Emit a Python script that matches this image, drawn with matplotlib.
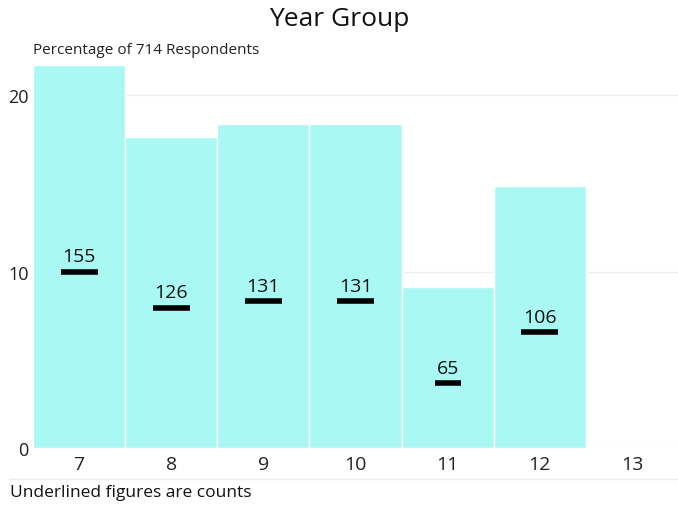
import matplotlib
matplotlib.use("Agg")
import matplotlib.pyplot as plt
from matplotlib.lines import Line2D
import matplotlib.transforms as mtransforms

plt.rcParams['font.family'] = ['Open Sans', 'DejaVu Sans']

categories = ["7", "8", "9", "10", "11", "12", "13"]
counts = [155, 126, 131, 131, 65, 106, 0]
total = 714
percentages = [c / total * 100 for c in counts]

fig = plt.figure(figsize=(6.78, 5.10), dpi=100)
ax = fig.add_axes([33/678, 61/510, 1 - 33/678, (449-66)/510])

x = list(range(len(categories)))
ax.set_axisbelow(True)
ax.yaxis.grid(True, color="#f0f0f0", linewidth=1)
ax.bar(x, percentages, width=1.0, color="#aaf8f4", edgecolor="white", linewidth=1, zorder=2)

ax.set_xlim(-0.5, len(categories) - 0.5)
ax.set_ylim(0, max(percentages))
ax.set_yticks([0, 10, 20])
ax.set_xticks(x)
ax.set_xticklabels(categories)
ax.tick_params(axis='both', length=0, colors="#222222")
ax.tick_params(axis='y', pad=3, labelsize=13)
ax.tick_params(axis='x', pad=5, labelsize=14)
for s in ax.spines.values():
    s.set_visible(False)

under = mtransforms.offset_copy(ax.transData, fig=fig, x=0, y=-11, units='points')
for xi, c, p in zip(x, counts, percentages):
    if c == 0:
        continue
    ax.text(xi, p / 2, str(c), ha='center', va='center', fontsize=14, color="#111111", zorder=4)
    w = 0.2 if len(str(c)) >= 3 else 0.2 * 0.7
    ax.plot([xi - w, xi + w], [p / 2, p / 2], color="black", linewidth=4, solid_capstyle='butt',
            transform=under, zorder=4)

fig.text(0.5, 1 - 20/510, "Year Group", ha='center', va='center', fontsize=19, color="#111111")
fig.text(33/678, 1 - 50/510, "Percentage of 714 Respondents", ha='left', va='center', fontsize=11, color="#222222")
fig.text(10/678, 1 - 493/510, "Underlined figures are counts", ha='left', va='center', fontsize=12.5, color="#111111")
fig.add_artist(Line2D([10/678, 1], [1 - 480/510, 1 - 480/510], transform=fig.transFigure, color="#ececec", linewidth=1))

fig.savefig("out.png", dpi=100)
